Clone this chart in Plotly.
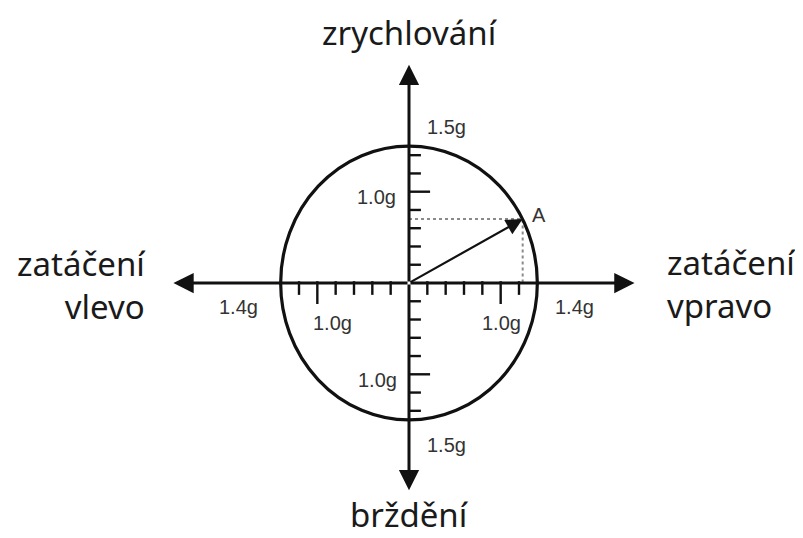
import plotly.graph_objects as go

# friction circle limits (g)
lateral_limit = 1.4
longitudinal_limit = 1.5

# tick marks on the axes (g)
lateral_ticks = [0.2, 0.4, 0.6, 0.8, 1.0, 1.2]
longitudinal_ticks = [0.2, 0.4, 0.6, 0.8, 1.0, 1.2, 1.4]
major_tick = 1.0

# point A on the circle (lateral g, longitudinal g)
point_a = [1.24, 0.70]

# where the axis arrows end (g)
axis_ends_x = [-2.57, 2.46]
axis_ends_y = [-2.27, 2.39]

# tick value labels
tick_labels = ["1.5g", "1.0g", "1.4g", "1.0g", "1.0g", "1.4g", "1.0g", "1.5g"]
tick_label_x = [0.41, -0.35, -1.86, -0.83, 1.01, 1.81, -0.34, 0.41]
tick_label_y = [1.71, 0.94, -0.26, -0.44, -0.44, -0.26, -1.06, -1.77]

# direction labels
dir_top = "zrychlování"
dir_bottom = "brždění"
dir_left = "zatáčení<br>vlevo"
dir_right = "zatáčení<br>vpravo"

MINOR_LEN = 0.13
MAJOR_LEN = 0.23
INK = "#111111"

# page body has an 8px margin, so the figure is 8px smaller than the window
PX_PER_G_X = 91.67
PX_PER_G_Y = 91.3
W, H = 795, 530
ORIGIN_X, ORIGIN_Y = 401, 275  # in figure pixels


def tick_segments():
    xs, ys = [], []
    # longitudinal axis: ticks to the right, both directions
    for v in longitudinal_ticks:
        ln = MAJOR_LEN if v == major_tick else MINOR_LEN
        for s in (1, -1):
            xs += [0, ln, None]
            ys += [s * v, s * v, None]
    # lateral axis: ticks hanging down, both directions
    for v in lateral_ticks:
        ln = MAJOR_LEN if v == major_tick else MINOR_LEN
        for s in (1, -1):
            xs += [s * v, s * v, None]
            ys += [0.02, -ln, None]
    return xs, ys


fig = go.Figure()

tx, ty = tick_segments()
fig.add_trace(go.Scatter(x=tx, y=ty, mode="lines",
                         line=dict(color=INK, width=2.4), hoverinfo="skip"))

# dotted projections of A onto the axes
fig.add_trace(go.Scatter(x=[0, point_a[0], point_a[0]], y=[point_a[1], point_a[1], 0],
                         mode="lines", line=dict(color="#8a8a8a", width=2, dash="dot"),
                         hoverinfo="skip"))

# friction ellipse
fig.add_shape(type="circle", xref="x", yref="y",
              x0=-lateral_limit, x1=lateral_limit,
              y0=-longitudinal_limit, y1=longitudinal_limit,
              line=dict(color=INK, width=3.2))

# axes with arrowheads
for ex in axis_ends_x:
    fig.add_annotation(x=ex, y=0, ax=0, ay=0, xref="x", yref="y", axref="x", ayref="y",
                       text="", showarrow=True, arrowhead=2, arrowsize=1.35,
                       arrowwidth=3, arrowcolor=INK)
for ey in axis_ends_y:
    fig.add_annotation(x=0, y=ey, ax=0, ay=0, xref="x", yref="y", axref="x", ayref="y",
                       text="", showarrow=True, arrowhead=2, arrowsize=1.35,
                       arrowwidth=3, arrowcolor=INK)

# vector to A
fig.add_annotation(x=point_a[0], y=point_a[1], ax=0, ay=0, xref="x", yref="y",
                   axref="x", ayref="y", text="", showarrow=True, arrowhead=2,
                   arrowsize=1.5, arrowwidth=2.2, arrowcolor=INK)

small = dict(family="Liberation Sans", size=20, color="#333333")
fig.add_annotation(x=1.42, y=0.75, text="A", showarrow=False, font=small)
for t, x, y in zip(tick_labels, tick_label_x, tick_label_y):
    fig.add_annotation(x=x, y=y, text=t, showarrow=False, font=small)

big = dict(family="Noto Sans", size=33, color="#1a1a1a")
fig.add_annotation(x=0.01, y=2.74, text=dir_top, showarrow=False, font=big)
fig.add_annotation(x=0.01, y=-2.79, text=dir_bottom, showarrow=False, font=big,
                   yanchor="bottom", borderpad=0)
fig.add_annotation(x=-2.85, y=-0.02, text=dir_left, showarrow=False, font=big,
                   xanchor="right", align="right")
fig.add_annotation(x=2.79, y=-0.01, text=dir_right, showarrow=False, font=big,
                   xanchor="left", align="left")

fig.update_layout(
    width=W, height=H,
    margin=dict(l=0, r=0, t=0, b=0),
    paper_bgcolor="white", plot_bgcolor="white",
    showlegend=False,
    xaxis=dict(range=[-ORIGIN_X / PX_PER_G_X, (W - ORIGIN_X) / PX_PER_G_X],
               visible=False, fixedrange=True),
    yaxis=dict(range=[-(H - ORIGIN_Y) / PX_PER_G_Y, ORIGIN_Y / PX_PER_G_Y],
               visible=False, fixedrange=True),
)

fig.write_html("out.html")
